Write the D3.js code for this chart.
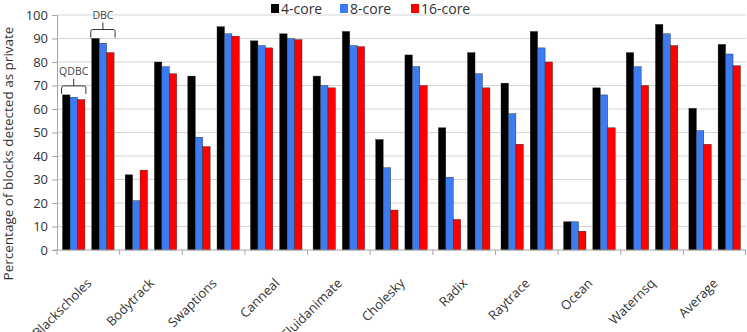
<!DOCTYPE html>
<html>
<head>
<meta charset="utf-8">
<script src="https://cdn.jsdelivr.net/npm/d3@7"></script>
<style>
  body { margin: 0; background: #fff; }
  svg { display: block; font-family: "Open Sans", sans-serif; }
</style>
</head>
<body>
<div id="chart"></div>
<script>
// Benchmarks on the x axis
const categories = ["Blackscholes", "Bodytrack", "Swaptions", "Canneal", "Fluidanimate",
    "Cholesky", "Radix", "Raytrace", "Ocean", "Waternsq", "Average"];
// two bar groups per benchmark
const groups = ["QDBC", "DBC"];
const seriesNames = ["4-core", "8-core", "16-core"];

// values (% of blocks detected as private)
const qdbc4  = [66, 32, 74, 89, 74, 47, 52, 71, 12, 84, 60.3];
const qdbc8  = [65, 21, 48, 87, 70, 35, 31, 58, 12, 78, 50.8];
const qdbc16 = [64, 34, 44, 86, 69, 17, 13, 45, 8, 70, 45];
const dbc4   = [90, 80, 95, 92, 93, 83, 84, 93, 69, 96, 87.5];
const dbc8   = [88, 78, 92, 90, 87, 78, 75, 86, 66, 92, 83.4];
const dbc16  = [84, 75, 91, 89.5, 86.5, 70, 69, 80, 52, 87, 78.4];

const yTicks = [0, 10, 20, 30, 40, 50, 60, 70, 80, 90, 100];

const width = 747, height = 332;
const margin = { top: 15, right: 1, bottom: 82, left: 57 };

const colors = d3.scaleOrdinal()
    .domain(seriesNames)
    .range(["#000000", "#3b7cf2", "#ff0000"]);

const valuesBy = {
    QDBC: { "4-core": qdbc4, "8-core": qdbc8, "16-core": qdbc16 },
    DBC:  { "4-core": dbc4,  "8-core": dbc8,  "16-core": dbc16 }
};

// flat list of bars
const bars = [];
categories.forEach((c, i) => {
    groups.forEach(g => {
        seriesNames.forEach(s => {
            bars.push({ cat: c, group: g, series: s, value: valuesBy[g][s][i] });
        });
    });
});

const svg = d3.select("#chart").append("svg")
    .attr("width", width)
    .attr("height", height);

const x0 = d3.scaleBand()
    .domain(categories)
    .range([margin.left, width - margin.right]);

const x1 = d3.scaleBand()
    .domain(groups)
    .range([0, x0.bandwidth()])
    .paddingInner(0.235)
    .paddingOuter(0.19);

const x2 = d3.scaleBand()
    .domain(seriesNames)
    .range([0, x1.bandwidth()]);

const y = d3.scaleLinear()
    .domain([0, 100])
    .range([height - margin.bottom, margin.top]);

// grid lines
svg.append("g")
    .selectAll("line")
    .data(yTicks.filter(d => d > 0))
    .join("line")
    .attr("x1", margin.left)
    .attr("x2", width - margin.right)
    .attr("y1", d => y(d))
    .attr("y2", d => y(d))
    .attr("stroke", "#d4d4d4")
    .attr("stroke-width", 1);

// Y axis
const yAxis = svg.append("g")
    .attr("transform", `translate(${margin.left},0)`)
    .call(d3.axisLeft(y).tickValues(yTicks).tickSize(5).tickPadding(4));
yAxis.selectAll("text")
    .style("font-size", "13px")
    .style("font-family", "'Open Sans', sans-serif")
    .style("fill", "#333");
yAxis.selectAll(".domain, .tick line").attr("stroke", "#a6a6a6");

// bars
svg.append("g")
    .selectAll("rect")
    .data(bars)
    .join("rect")
    .attr("x", d => x0(d.cat) + x1(d.group) + x2(d.series))
    .attr("y", d => y(d.value))
    .attr("width", x2.bandwidth())
    .attr("height", d => y(0) - y(d.value))
    .attr("fill", d => colors(d.series))
    .attr("stroke", "#222")
    .attr("stroke-width", 0.4);

// X axis line and ticks between categories
const xAxisG = svg.append("g");
xAxisG.append("line")
    .attr("x1", margin.left - 4)
    .attr("x2", width - margin.right)
    .attr("y1", y(0))
    .attr("y2", y(0))
    .attr("stroke", "#a6a6a6");
xAxisG.selectAll(".xtick")
    .data(categories.map(c => x0(c)).concat([x0.range()[1] - 0.5]))
    .join("line")
    .attr("class", "xtick")
    .attr("x1", d => d)
    .attr("x2", d => d)
    .attr("y1", y(0))
    .attr("y2", y(0) + 5)
    .attr("stroke", "#a6a6a6");

// rotated category labels (they run off the bottom edge, as in the original)
xAxisG.selectAll(".xlabel")
    .data(categories)
    .join("text")
    .attr("class", "xlabel")
    .attr("transform", d => `translate(${x0(d) + x0.bandwidth() / 2 + 4},${y(0) + 34}) rotate(-45)`)
    .attr("text-anchor", "end")
    .style("font-size", "13px")
    .style("fill", "#333")
    .text(d => d);

// Y axis label
svg.append("text")
    .attr("transform", `translate(13,${(margin.top + height) / 2 - 20}) rotate(-90)`)
    .attr("text-anchor", "middle")
    .style("font-size", "13.5px")
    .style("fill", "#333")
    .text("Percentage of blocks detected  as private");

// brackets marking QDBC / DBC on the first benchmark
groups.forEach(g => {
    const left = x0(categories[0]) + x1(g) - 1;
    const right = left + x1.bandwidth() + 2;
    const mid = (left + right) / 2;
    const top = d3.max(seriesNames, s => valuesBy[g][s][0]);
    const base = y(top) - 1;
    const hy = base - 8;
    const b = svg.append("g").attr("fill", "none").attr("stroke", "#333").attr("stroke-width", 1);
    b.append("path")
        .attr("d", `M${left},${base} L${left},${hy + 2} Q${left},${hy} ${left + 2},${hy} ` +
            `L${right - 2},${hy} Q${right},${hy} ${right},${hy + 2} L${right},${base}`);
    b.append("line")
        .attr("x1", mid).attr("x2", mid)
        .attr("y1", hy).attr("y2", hy - 7);
    svg.append("text")
        .attr("x", mid)
        .attr("y", hy - 11)
        .attr("text-anchor", "middle")
        .style("font-size", "10.5px")
        .style("fill", "#444")
        .text(g);
});

// legend
const legendX = [271, 340, 411];
const legend = svg.append("g");
seriesNames.forEach((s, i) => {
    const lg = legend.append("g").attr("transform", `translate(${legendX[i]},4)`);
    lg.append("rect")
        .attr("width", 8)
        .attr("height", 9)
        .attr("fill", colors(s));
    lg.append("text")
        .attr("x", 10)
        .attr("y", 9.5)
        .style("font-size", "14px")
        .style("fill", "#333")
        .text(s);
});
</script>
</body>
</html>
